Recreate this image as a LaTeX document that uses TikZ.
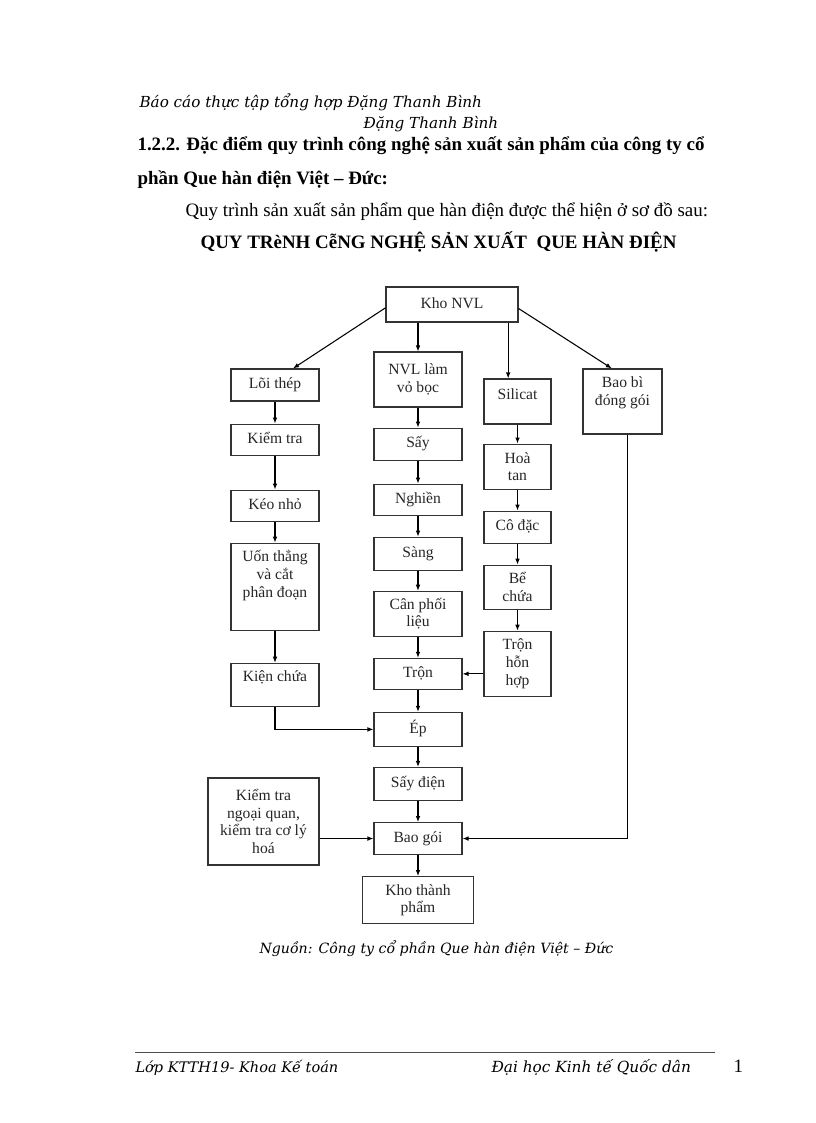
\documentclass[tikz,border=0pt]{standalone}
\usepackage{fontspec}
\setmainfont{Liberation Serif}
\newfontfamily\notefont{DejaVu Serif}
\usetikzlibrary{arrows.meta, positioning}

\begin{document}
\begin{tikzpicture}[
        ->,
        >={Latex[length=4.5pt, width=3.5pt]},
        line width=0.8pt,
        x=0.75pt, y=-0.75pt,
        node distance=15.75pt
    ]
    \tikzset{
        stepbox/.style = {draw=black!80, align=center, inner sep=1pt, text=black!85,
                          font=\fontsize{11.7}{13.3}\selectfont},
        oneline/.style = {text height=8.5pt, text depth=3pt},
        colbox/.style = {stepbox, minimum width=66pt},
        silbox/.style = {stepbox, minimum width=50.25pt},
        pagetext/.style = {anchor=base west, inner sep=0pt},
        notetext/.style = {pagetext, font=\notefont\itshape\fontsize{11.3}{13}\selectfont},
        bodytext/.style = {pagetext, font=\fontsize{14.2}{16}\selectfont},
        boldtext/.style = {pagetext, font=\fontsize{14.2}{16}\selectfont\bfseries}
    }
    \useasboundingbox (0,0) rectangle (816,1123);

    % Page head
    \node[notetext, font=\notefont\itshape\fontsize{11.4}{13}\selectfont] (hdr) at (139,108) {Báo cáo thực tập tổng hợp Đặng Thanh Bình};
    \node[notetext, font=\notefont\itshape\fontsize{11.4}{13}\selectfont] (hdrname) at (363,129) {Đặng Thanh Bình};
    \node[boldtext] (sec) at (137,151)
        {1.2.2. Đặc điểm quy trình công nghệ sản xuất sản phẩm của công ty cổ};
    \node[boldtext] (secb) at (137,185)
        {phần Que hàn điện Việt – Đức:};
    \node[bodytext] (intro) at (185,217)
        {Quy trình sản xuất sản phẩm que hàn điện được thể hiện ở sơ đồ sau:};
    \node[boldtext] (title) at (200,248)
        {QUY TRèNH CễNG NGHỆ SẢN XUẤT\ \ QUE HÀN ĐIỆN};

    % Raw material store
    \node[stepbox, oneline, minimum width=99pt, minimum height=26.25pt] (kho) at (452,304.5) {Kho NVL};

    % Left column (steel core)
    \node[colbox, oneline, minimum height=24pt] (loi) at (275,385) {Lõi thép};
    \node[colbox, oneline, minimum height=23.25pt, below=16.5pt of loi] (kt) {Kiểm tra};
    \node[colbox, oneline, minimum height=23.25pt, below=25.5pt of kt] (keo) {Kéo nhỏ};
    \node[colbox, minimum height=65.25pt, text depth=19pt, below=of keo] (uon) {Uốn thẳng\\và cắt\\phân đoạn};
    \node[colbox, oneline, text depth=13.5pt, minimum height=32.25pt, below=24pt of uon] (kien) {Kiện chứa};

    % Middle column (coating)
    \node[colbox, minimum height=41.25pt] (vo) at (418,379.5) {NVL làm\\vỏ bọc};
    \node[colbox, oneline, minimum height=24pt, below=15pt of vo] (say) {Sấy};
    \node[colbox, oneline, minimum height=23.25pt, below=17.25pt of say] (nghien) {Nghiền};
    \node[colbox, oneline, minimum height=24.75pt, below=of nghien] (sang) {Sàng};
    \node[colbox, minimum height=33.75pt, below=15pt of sang] (can) {Cân phối\\liệu};
    \node[colbox, oneline, minimum height=23.25pt, below=of can] (tron) {Trộn};
    \node[colbox, oneline, minimum height=25.5pt, below=16.5pt of tron] (ep) {Ép};
    \node[colbox, oneline, minimum height=24.75pt, below=15pt of ep] (saydien) {Sấy điện};
    \node[colbox, oneline, minimum height=24pt, below=of saydien] (baogoi) {Bao gói};
    \node[stepbox, minimum width=83.25pt, minimum height=35.25pt, below=of baogoi] (khotp) {Kho thành\\phẩm};

    % Right column (silicate)
    \node[silbox, oneline, text depth=12pt, minimum height=33.75pt] (sil) at (517.5,401.5) {Silicat};
    \node[silbox, minimum height=33.75pt, below=14.25pt of sil] (hoatan) {Hoà\\tan};
    \node[silbox, oneline, minimum height=24pt, below=of hoatan] (coduc) {Cô đặc};
    \node[silbox, minimum height=33pt, below=of coduc] (be) {Bể\\chứa};
    \node[silbox, minimum height=48.75pt, below=of be] (tronhh) {Trộn\\hỗn\\hợp};

    % Packaging and inspection
    \node[stepbox, minimum width=59.25pt, minimum height=48.75pt, text depth=16pt] (baobi) at (622.5,401.5) {Bao bì\\đóng gói};
    \node[stepbox, minimum width=83.25pt, minimum height=65.25pt] (ktnq) at (263.5,821.5) {Kiểm tra\\ngoại quan,\\kiểm tra cơ lý\\hoá};

    % Out of the store
    \coordinate (silin) at ([xshift=-7pt]sil.north);
    \draw[->] ([yshift=-2.5pt]kho.west) -- ([xshift=13.5pt]loi.north);
    \draw[->] (kho.south -| vo) -- (vo);
    \draw[->] (kho.south -| silin) -- (silin);
    \draw[->] ([yshift=-3pt]kho.east) -- ([xshift=-8pt]baobi.north);

    % Down the columns
    \draw[->] (loi) -- (kt);
    \draw[->] (kt) -- (keo);
    \draw[->] (keo) -- (uon);
    \draw[->] (uon) -- (kien);
    \draw[->] (vo) -- (say);
    \draw[->] (say) -- (nghien);
    \draw[->] (nghien) -- (sang);
    \draw[->] (sang) -- (can);
    \draw[->] (can) -- (tron);
    \draw[->] (tron) -- (ep);
    \draw[->] (ep) -- (saydien);
    \draw[->] (saydien) -- (baogoi);
    \draw[->] (baogoi) -- (khotp);
    \draw[->] (sil) -- (hoatan);
    \draw[->] (hoatan) -- (coduc);
    \draw[->] (coduc) -- (be);
    \draw[->] (be) -- (tronhh);

    % Joins into the middle column
    \draw[->] (kien) |- (ep);
    \draw[->] (tronhh.west |- tron) -- (tron);
    \draw[->] ([xshift=3.5pt]baobi.south) |- (baogoi);
    \draw[->] (ktnq.east |- baogoi) -- (baogoi);

    % Source and page foot
    \node[notetext, font=\notefont\itshape\fontsize{10.6}{13}\selectfont] (src) at (259,953) {Nguồn: Công ty cổ phần Que hàn điện Việt – Đức};
    \coordinate (rulel) at (135,1052);
    \coordinate (ruler) at (715,1052);
    \draw[-, line width=0.5pt, black!70] (rulel) -- (ruler);
    \node[notetext, font=\notefont\itshape\fontsize{10.9}{13}\selectfont] (footl) at (135,1072) {Lớp KTTH19- Khoa Kế toán};
    \node[notetext, font=\notefont\itshape\fontsize{11.5}{13}\selectfont] (footr) at (491,1072) {Đại học Kinh tế Quốc dân};
    \node[bodytext] (pageno) at (733,1072) {1};

\end{tikzpicture}
\end{document}
